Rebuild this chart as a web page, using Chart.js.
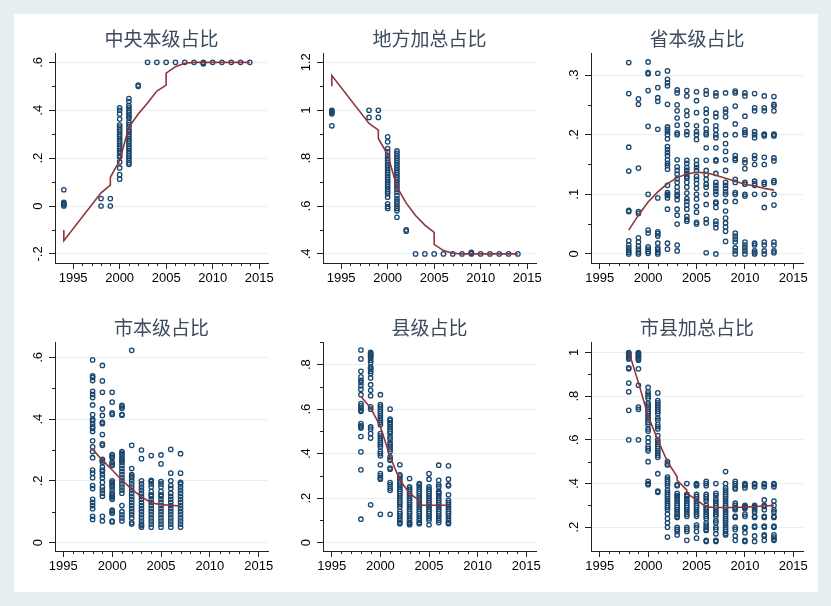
<!DOCTYPE html>
<html>
<head>
<meta charset="utf-8">
<script src="https://cdn.jsdelivr.net/npm/chart.js@4.4.1/dist/chart.umd.min.js"></script>
<style>
body { margin: 0; background: #e8eff1; }
#wrap { position: relative; width: 831px; height: 606px; overflow: hidden; }
#inner { position: absolute; left: 14px; top: 14px; width: 804px; height: 578px; background: #fff; }
canvas { position: absolute; }
</style>
</head>
<body>
<div id="wrap">
  <div id="inner"></div>
  <canvas id="c1"></canvas>
  <canvas id="c2"></canvas>
  <canvas id="c3"></canvas>
  <canvas id="c4"></canvas>
  <canvas id="c5"></canvas>
  <canvas id="c6"></canvas>
</div>
<script>
// x axis (all panels)
var xTicks = [1995, 2000, 2005, 2010, 2015];
var xMinor = [1996, 1997, 1998, 1999, 2001, 2002, 2003, 2004, 2006, 2007, 2008, 2009, 2011, 2012, 2013, 2014];

// 中央本级占比
var zyYears = [1994, 1998, 1999, 2000, 2001, 2002, 2003, 2004, 2005, 2006, 2007, 2008, 2009, 2010, 2011, 2012, 2013, 2014];
var zyVals = [
  [0.068, 0.015, 0.01, 0.005, 0.0],
  [0.031, 0.0],
  [0.031, 0.0],
  [0.112, 0.131, 0.159, 0.184, 0.205, 0.21, 0.22, 0.23, 0.24, 0.25, 0.26, 0.27, 0.28, 0.29, 0.3, 0.31, 0.32, 0.33, 0.338, 0.363, 0.384, 0.4, 0.41],
  [0.174, 0.18, 0.19, 0.2, 0.21, 0.22, 0.23, 0.24, 0.25, 0.26, 0.27, 0.28, 0.29, 0.3, 0.31, 0.317, 0.33, 0.34, 0.35, 0.366, 0.373, 0.38, 0.39, 0.4, 0.41, 0.42, 0.436, 0.449],
  [0.5, 0.505],
  [0.6], [0.6], [0.6], [0.6], [0.6], [0.6], [0.6, 0.597, 0.594], [0.6], [0.6], [0.6], [0.6], [0.6]
];
var zyFitX = [1994, 1994, 1998, 1999, 1999, 2000, 2001, 2002, 2003, 2004, 2005, 2005, 2006, 2007, 2008, 2009, 2010, 2011, 2012, 2013, 2014];
var zyFitY = [-0.1, -0.145, 0.055, 0.087, 0.12, 0.19, 0.33, 0.384, 0.43, 0.48, 0.505, 0.555, 0.582, 0.596, 0.6, 0.6, 0.6, 0.6, 0.6, 0.6, 0.6];
var zyYTicks = [-0.2, 0, 0.2, 0.4, 0.6];
var zyYLabels = ['-.2', '0', '.2', '.4', '.6'];
var zyYMinor = [-0.1, 0.1, 0.3, 0.5];

// 地方加总占比
var dfYears = [1994, 1998, 1999, 2000, 2001, 2002, 2003, 2004, 2005, 2006, 2007, 2008, 2009, 2010, 2011, 2012, 2013, 2014];
var dfVals = [
  [1.0, 0.995, 0.99, 0.985, 0.935],
  [1.0, 0.97],
  [1.0, 0.97],
  [0.59, 0.598, 0.609, 0.637, 0.651, 0.66, 0.67, 0.68, 0.69, 0.7, 0.71, 0.72, 0.73, 0.74, 0.75, 0.76, 0.77, 0.78, 0.79, 0.8, 0.812, 0.826, 0.84, 0.868, 0.889],
  [0.553, 0.58, 0.59, 0.6, 0.61, 0.62, 0.63, 0.644, 0.658, 0.67, 0.68, 0.69, 0.7, 0.71, 0.72, 0.73, 0.74, 0.75, 0.76, 0.77, 0.78, 0.79, 0.8, 0.81, 0.82, 0.83],
  [0.5, 0.495],
  [0.4], [0.4], [0.4], [0.4], [0.4], [0.4], [0.4, 0.403, 0.406], [0.4], [0.4], [0.4], [0.4], [0.4]
];
var dfFitX = [1994, 1994, 1998, 1999, 1999, 2000, 2001, 2002, 2003, 2004, 2005, 2005, 2006, 2007, 2008, 2009, 2010, 2011, 2012, 2013, 2014];
var dfFitY = [1.1, 1.145, 0.945, 0.917, 0.882, 0.815, 0.68, 0.612, 0.56, 0.52, 0.49, 0.44, 0.414, 0.403, 0.4, 0.4, 0.4, 0.4, 0.4, 0.4, 0.4];
var dfYTicks = [0.4, 0.6, 0.8, 1, 1.2];
var dfYLabels = ['.4', '.6', '.8', '1', '1.2'];
var dfYMinor = [0.5, 0.7, 0.9, 1.1];

// 省本级占比
var sbYears = [1998, 1999, 2000, 2001, 2002, 2003, 2004, 2005, 2006, 2007, 2008, 2009, 2010, 2011, 2012, 2013];
var sbVals = [
  [0.321, 0.269, 0.179, 0.139, 0.073, 0.071, 0.022, 0.015, 0.01, 0.006, 0.003, 0.0],
  [0.26, 0.251, 0.144, 0.071, 0.068, 0.027, 0.02, 0.013, 0.008, 0.003, 0.0],
  [0.322, 0.304, 0.302, 0.274, 0.214, 0.1, 0.04, 0.035, 0.012, 0.008, 0.004, 0.001],
  [0.303, 0.279, 0.262, 0.256, 0.209, 0.094, 0.037, 0.034, 0.03, 0.018, 0.01, 0.007, 0.003, 0.0],
  [0.307, 0.293, 0.287, 0.282, 0.251, 0.213, 0.209, 0.205, 0.2, 0.193, 0.18, 0.175, 0.17, 0.165, 0.158, 0.152, 0.148, 0.142, 0.115, 0.103, 0.1, 0.098, 0.094, 0.075, 0.018, 0.008],
  [0.275, 0.27, 0.25, 0.24, 0.228, 0.216, 0.203, 0.2, 0.158, 0.146, 0.14, 0.134, 0.126, 0.12, 0.112, 0.105, 0.1, 0.097, 0.091, 0.075, 0.065, 0.05, 0.015, 0.005],
  [0.274, 0.265, 0.24, 0.232, 0.217, 0.205, 0.2, 0.157, 0.152, 0.145, 0.14, 0.135, 0.13, 0.127, 0.12, 0.112, 0.102, 0.093, 0.088, 0.082, 0.075, 0.063, 0.058, 0.055],
  [0.272, 0.257, 0.237, 0.215, 0.205, 0.2, 0.192, 0.157, 0.15, 0.145, 0.14, 0.13, 0.125, 0.118, 0.11, 0.1, 0.092, 0.08, 0.07, 0.053, 0.05],
  [0.274, 0.268, 0.243, 0.236, 0.223, 0.21, 0.203, 0.2, 0.178, 0.157, 0.14, 0.133, 0.125, 0.117, 0.112, 0.1, 0.083, 0.058, 0.052, 0.002],
  [0.27, 0.265, 0.236, 0.23, 0.215, 0.208, 0.2, 0.195, 0.178, 0.158, 0.156, 0.135, 0.12, 0.115, 0.11, 0.105, 0.1, 0.087, 0.085, 0.078, 0.055, 0.05, 0.044, 0.0],
  [0.27, 0.243, 0.238, 0.23, 0.2, 0.185, 0.172, 0.158, 0.14, 0.12, 0.115, 0.11, 0.104, 0.1, 0.088, 0.072, 0.06, 0.052, 0.045, 0.038, 0.021],
  [0.273, 0.27, 0.248, 0.218, 0.2, 0.165, 0.16, 0.157, 0.125, 0.12, 0.103, 0.1, 0.088, 0.035, 0.03, 0.025, 0.02, 0.01, 0.005, 0.0],
  [0.27, 0.265, 0.231, 0.208, 0.204, 0.2, 0.158, 0.153, 0.143, 0.12, 0.117, 0.1, 0.097, 0.02, 0.015, 0.01, 0.005, 0.0],
  [0.269, 0.245, 0.24, 0.205, 0.2, 0.195, 0.165, 0.16, 0.15, 0.122, 0.118, 0.115, 0.1, 0.018, 0.015, 0.005, 0.002, 0.0],
  [0.265, 0.245, 0.24, 0.201, 0.2, 0.198, 0.162, 0.15, 0.12, 0.117, 0.1, 0.078, 0.02, 0.015, 0.005, 0.0],
  [0.264, 0.251, 0.248, 0.24, 0.201, 0.2, 0.198, 0.161, 0.156, 0.123, 0.12, 0.1, 0.082, 0.02, 0.015, 0.005, 0.002]
];
var sbFitX = [1998, 1999, 2000, 2001, 2002, 2003, 2004, 2005, 2006, 2007, 2008, 2009, 2010, 2011, 2012, 2013];
var sbFitY = [0.04, 0.065, 0.087, 0.104, 0.118, 0.128, 0.134, 0.137, 0.136, 0.132, 0.127, 0.122, 0.117, 0.114, 0.11, 0.107];
var sbYTicks = [0, 0.1, 0.2, 0.3];
var sbYLabels = ['0', '.1', '.2', '.3'];
var sbYMinor = [0.05, 0.15, 0.25];

// 市本级占比
var shiYears = [1998, 1999, 2000, 2001, 2002, 2003, 2004, 2005, 2006, 2007];
var shiVals = [
  [0.592, 0.54, 0.535, 0.525, 0.49, 0.48, 0.47, 0.446, 0.415, 0.4, 0.395, 0.385, 0.375, 0.37, 0.36, 0.33, 0.31, 0.295, 0.275, 0.235, 0.225, 0.21, 0.185, 0.175, 0.14, 0.13, 0.12, 0.11, 0.085, 0.075],
  [0.574, 0.524, 0.487, 0.433, 0.412, 0.39, 0.385, 0.35, 0.32, 0.315, 0.27, 0.265, 0.26, 0.245, 0.235, 0.23, 0.22, 0.21, 0.195, 0.18, 0.17, 0.16, 0.15, 0.085, 0.07],
  [0.487, 0.455, 0.42, 0.415, 0.285, 0.28, 0.275, 0.26, 0.255, 0.25, 0.2, 0.195, 0.19, 0.185, 0.18, 0.17, 0.16, 0.155, 0.15, 0.145, 0.14, 0.105, 0.1, 0.095, 0.07, 0.067],
  [0.445, 0.44, 0.435, 0.415, 0.413, 0.295, 0.29, 0.285, 0.275, 0.27, 0.265, 0.26, 0.25, 0.24, 0.23, 0.22, 0.21, 0.2, 0.19, 0.18, 0.17, 0.16, 0.12, 0.1, 0.09, 0.08, 0.07],
  [0.623, 0.315, 0.24, 0.22, 0.215, 0.21, 0.2, 0.19, 0.18, 0.17, 0.16, 0.15, 0.14, 0.13, 0.12, 0.11, 0.1, 0.09, 0.08, 0.065, 0.06],
  [0.3, 0.272, 0.2, 0.19, 0.18, 0.17, 0.16, 0.15, 0.14, 0.13, 0.12, 0.11, 0.1, 0.09, 0.08, 0.07, 0.06, 0.055, 0.05],
  [0.282, 0.202, 0.198, 0.19, 0.18, 0.165, 0.155, 0.15, 0.14, 0.13, 0.12, 0.11, 0.1, 0.09, 0.08, 0.07, 0.06, 0.05],
  [0.284, 0.255, 0.198, 0.19, 0.18, 0.165, 0.155, 0.15, 0.14, 0.13, 0.12, 0.11, 0.1, 0.09, 0.08, 0.07, 0.06, 0.05],
  [0.302, 0.225, 0.2, 0.185, 0.175, 0.16, 0.15, 0.14, 0.13, 0.12, 0.11, 0.1, 0.09, 0.08, 0.07, 0.06, 0.05],
  [0.288, 0.225, 0.195, 0.19, 0.18, 0.17, 0.16, 0.15, 0.14, 0.13, 0.12, 0.11, 0.1, 0.09, 0.08, 0.07, 0.06, 0.05]
];
var shiFitX = [1998, 1999, 2000, 2001, 2002, 2003, 2004, 2005, 2006, 2007];
var shiFitY = [0.302, 0.267, 0.235, 0.202, 0.173, 0.148, 0.129, 0.123, 0.121, 0.118];
var shiYTicks = [0, 0.2, 0.4, 0.6];
var shiYLabels = ['0', '.2', '.4', '.6'];
var shiYMinor = [0.1, 0.3, 0.5];

// 县级占比
var xianYears = [1998, 1999, 2000, 2001, 2002, 2003, 2004, 2005, 2006, 2007];
var xianVals = [
  [0.866, 0.826, 0.77, 0.745, 0.73, 0.72, 0.705, 0.69, 0.665, 0.625, 0.615, 0.605, 0.595, 0.59, 0.535, 0.525, 0.52, 0.515, 0.477, 0.408, 0.327, 0.105],
  [0.855, 0.85, 0.845, 0.84, 0.835, 0.83, 0.82, 0.81, 0.79, 0.785, 0.78, 0.77, 0.76, 0.74, 0.71, 0.685, 0.66, 0.61, 0.6, 0.52, 0.51, 0.49, 0.47, 0.17],
  [0.665, 0.62, 0.61, 0.6, 0.59, 0.58, 0.57, 0.56, 0.55, 0.54, 0.53, 0.49, 0.48, 0.47, 0.46, 0.45, 0.44, 0.43, 0.41, 0.4, 0.39, 0.35, 0.31, 0.3, 0.29, 0.285, 0.127],
  [0.6, 0.555, 0.55, 0.54, 0.53, 0.52, 0.51, 0.5, 0.49, 0.475, 0.465, 0.45, 0.44, 0.43, 0.42, 0.41, 0.385, 0.375, 0.37, 0.335, 0.33, 0.27, 0.26, 0.245, 0.235, 0.127],
  [0.35, 0.305, 0.3, 0.29, 0.28, 0.27, 0.26, 0.25, 0.24, 0.23, 0.22, 0.21, 0.2, 0.19, 0.18, 0.17, 0.16, 0.14, 0.13, 0.12, 0.11, 0.1, 0.09, 0.085],
  [0.288, 0.25, 0.24, 0.23, 0.22, 0.21, 0.2, 0.19, 0.18, 0.17, 0.16, 0.15, 0.14, 0.13, 0.12, 0.11, 0.1, 0.09, 0.085, 0.08],
  [0.265, 0.26, 0.25, 0.24, 0.23, 0.22, 0.21, 0.2, 0.19, 0.18, 0.17, 0.16, 0.15, 0.14, 0.13, 0.12, 0.11, 0.1, 0.09, 0.085],
  [0.31, 0.285, 0.25, 0.24, 0.23, 0.22, 0.21, 0.2, 0.19, 0.18, 0.17, 0.16, 0.15, 0.14, 0.13, 0.12, 0.11, 0.1, 0.08],
  [0.348, 0.28, 0.26, 0.25, 0.23, 0.225, 0.22, 0.21, 0.2, 0.19, 0.18, 0.17, 0.16, 0.15, 0.14, 0.13, 0.12, 0.11, 0.1, 0.09],
  [0.345, 0.285, 0.26, 0.255, 0.215, 0.19, 0.18, 0.17, 0.16, 0.15, 0.14, 0.13, 0.12, 0.11, 0.1, 0.09, 0.085]
];
var xianFitX = [1998, 1999, 2000, 2001, 2002, 2003, 2004, 2004, 2005, 2006, 2007];
var xianFitY = [0.657, 0.605, 0.522, 0.386, 0.281, 0.221, 0.19, 0.168, 0.168, 0.168, 0.168];
var xianYTicks = [0, 0.2, 0.4, 0.6, 0.8];
var xianYLabels = ['0', '.2', '.4', '.6', '.8'];
var xianYMinor = [0.1, 0.3, 0.5, 0.7, 0.9];

// 市县加总占比
var sxYears = [1998, 1999, 2000, 2001, 2002, 2003, 2004, 2005, 2006, 2007, 2008, 2009, 2010, 2011, 2012, 2013];
var sxVals = [
  [1.0, 0.995, 0.99, 0.985, 0.98, 0.975, 0.97, 0.93, 0.925, 0.86, 0.82, 0.735, 0.6],
  [1.0, 0.995, 0.99, 0.985, 0.98, 0.975, 0.97, 0.965, 0.925, 0.85, 0.75, 0.74, 0.6],
  [0.84, 0.82, 0.81, 0.8, 0.79, 0.77, 0.76, 0.75, 0.74, 0.73, 0.72, 0.71, 0.7, 0.69, 0.68, 0.67, 0.65, 0.64, 0.61, 0.59, 0.57, 0.56, 0.55, 0.5, 0.41, 0.4, 0.395],
  [0.815, 0.78, 0.77, 0.76, 0.75, 0.74, 0.73, 0.72, 0.7, 0.69, 0.67, 0.66, 0.65, 0.62, 0.6, 0.59, 0.58, 0.57, 0.56, 0.55, 0.54, 0.53, 0.52, 0.445, 0.365, 0.36],
  [0.5, 0.49, 0.485, 0.43, 0.42, 0.41, 0.4, 0.39, 0.37, 0.36, 0.35, 0.34, 0.33, 0.32, 0.31, 0.3, 0.29, 0.28, 0.26, 0.24, 0.22, 0.2, 0.155],
  [0.395, 0.39, 0.355, 0.345, 0.34, 0.33, 0.32, 0.31, 0.3, 0.29, 0.28, 0.27, 0.26, 0.25, 0.245, 0.2, 0.19, 0.18, 0.165],
  [0.4, 0.35, 0.345, 0.34, 0.33, 0.32, 0.31, 0.3, 0.29, 0.28, 0.27, 0.26, 0.25, 0.2, 0.19, 0.18, 0.14],
  [0.4, 0.395, 0.39, 0.35, 0.34, 0.33, 0.32, 0.31, 0.3, 0.29, 0.28, 0.27, 0.26, 0.25, 0.21, 0.2, 0.18, 0.15],
  [0.41, 0.4, 0.39, 0.35, 0.34, 0.33, 0.32, 0.3, 0.29, 0.28, 0.27, 0.26, 0.25, 0.24, 0.22, 0.21, 0.2, 0.19, 0.185, 0.14, 0.135],
  [0.4, 0.355, 0.345, 0.33, 0.32, 0.31, 0.3, 0.29, 0.28, 0.27, 0.26, 0.25, 0.23, 0.22, 0.2, 0.19, 0.17, 0.14, 0.135],
  [0.455, 0.4, 0.38, 0.37, 0.36, 0.35, 0.34, 0.33, 0.32, 0.31, 0.3, 0.29, 0.28, 0.27, 0.26, 0.25, 0.24, 0.23, 0.22, 0.21, 0.2, 0.19, 0.18, 0.17, 0.165],
  [0.41, 0.4, 0.39, 0.38, 0.375, 0.31, 0.3, 0.29, 0.285, 0.28, 0.25, 0.245, 0.2, 0.19, 0.16, 0.14],
  [0.4, 0.395, 0.39, 0.38, 0.3, 0.295, 0.29, 0.285, 0.26, 0.25, 0.2, 0.195, 0.175, 0.14, 0.135],
  [0.4, 0.395, 0.385, 0.3, 0.295, 0.29, 0.28, 0.27, 0.25, 0.245, 0.205, 0.2, 0.16, 0.135],
  [0.4, 0.395, 0.385, 0.325, 0.3, 0.295, 0.28, 0.25, 0.245, 0.205, 0.2, 0.165, 0.16, 0.14],
  [0.4, 0.395, 0.385, 0.32, 0.3, 0.28, 0.27, 0.25, 0.245, 0.205, 0.2, 0.165, 0.155, 0.145, 0.14]
];
var sxFitX = [1998, 1999, 2000, 2001, 2002, 2003, 2003, 2004, 2004, 2005, 2006, 2007, 2008, 2009, 2010, 2011, 2012, 2013];
var sxFitY = [1.005, 0.862, 0.709, 0.6, 0.5, 0.431, 0.415, 0.37, 0.355, 0.325, 0.293, 0.29, 0.29, 0.29, 0.292, 0.295, 0.297, 0.3];
var sxYTicks = [0.2, 0.4, 0.6, 0.8, 1];
var sxYLabels = ['.2', '.4', '.6', '.8', '1'];
var sxYMinor = [0.3, 0.5, 0.7, 0.9];

var navy = '#1a476f';
var maroon = '#90353b';
var axisColor = '#222';

// minor ticks and vertical y labels, placed with the chart's own scales
var stataAxes = {
  id: 'stataAxes',
  afterDraw: function(chart, args, opts) {
    var ctx = chart.ctx, xs = chart.scales.x, ys = chart.scales.y, a = chart.chartArea;
    ctx.save();
    ctx.strokeStyle = axisColor;
    ctx.lineWidth = 1;
    ctx.beginPath();
    opts.xMinor.forEach(function(v) {
      var px = Math.round(xs.getPixelForValue(v)) + 0.5;
      ctx.moveTo(px, a.bottom);
      ctx.lineTo(px, a.bottom + 3);
    });
    opts.yMinor.forEach(function(v) {
      var py = Math.round(ys.getPixelForValue(v)) + 0.5;
      ctx.moveTo(a.left, py);
      ctx.lineTo(a.left - 3, py);
    });
    ctx.stroke();
    ctx.fillStyle = '#000';
    ctx.font = '13px "Liberation Sans", Arial, sans-serif';
    ctx.textAlign = 'center';
    ctx.textBaseline = 'middle';
    opts.yTicks.forEach(function(v, i) {
      ctx.save();
      ctx.translate(a.left - 16.5, ys.getPixelForValue(v));
      ctx.rotate(-Math.PI / 2);
      ctx.fillText(opts.yLabels[i], 0, 0);
      ctx.restore();
    });
    ctx.restore();
  }
};

function points(years, vals) {
  var out = [];
  years.forEach(function(yr, i) {
    vals[i].forEach(function(v) { out.push({x: yr, y: v}); });
  });
  return out;
}
function line(xs, ys) {
  return xs.map(function(x, i) { return {x: x, y: ys[i]}; });
}

var panels = [
  {id: 'c1', title: '中央本级占比', left: 55, right: 268, top: 53, bottom: 263, canvasTop: 14, titleY: 39,
   xMin: 1993.05, xMax: 2015.95, yMin: -0.238, yMax: 0.639,
   years: zyYears, vals: zyVals, fitX: zyFitX, fitY: zyFitY, yTicks: zyYTicks, yLabels: zyYLabels, yMinor: zyYMinor},
  {id: 'c2', title: '地方加总占比', left: 323, right: 536, top: 53, bottom: 263, canvasTop: 14, titleY: 39,
   xMin: 1993.05, xMax: 2015.95, yMin: 0.362, yMax: 1.239,
   years: dfYears, vals: dfVals, fitX: dfFitX, fitY: dfFitY, yTicks: dfYTicks, yLabels: dfYLabels, yMinor: dfYMinor},
  {id: 'c3', title: '省本级占比', left: 591, right: 803, top: 53, bottom: 263, canvasTop: 14, titleY: 39,
   xMin: 1994.1, xMax: 2016.0, yMin: -0.0152, yMax: 0.337,
   years: sbYears, vals: sbVals, fitX: sbFitX, fitY: sbFitY, yTicks: sbYTicks, yLabels: sbYLabels, yMinor: sbYMinor},
  {id: 'c4', title: '市本级占比', left: 55, right: 268, top: 342, bottom: 551, canvasTop: 300, titleY: 327.5,
   xMin: 1994.15, xMax: 2015.95, yMin: -0.0273, yMax: 0.65,
   years: shiYears, vals: shiVals, fitX: shiFitX, fitY: shiFitY, yTicks: shiYTicks, yLabels: shiYLabels, yMinor: shiYMinor},
  {id: 'c5', title: '县级占比', left: 323, right: 536, top: 342, bottom: 551, canvasTop: 300, titleY: 327.5,
   xMin: 1994.1, xMax: 2016.0, yMin: -0.038, yMax: 0.902,
   years: xianYears, vals: xianVals, fitX: xianFitX, fitY: xianFitY, yTicks: xianYTicks, yLabels: xianYLabels, yMinor: xianYMinor},
  {id: 'c6', title: '市县加总占比', left: 591, right: 803, top: 342, bottom: 551, canvasTop: 300, titleY: 327.5,
   xMin: 1994.1, xMax: 2016.0, yMin: 0.0912, yMax: 1.048,
   years: sxYears, vals: sxVals, fitX: sxFitX, fitY: sxFitY, yTicks: sxYTicks, yLabels: sxYLabels, yMinor: sxYMinor}
];

panels.forEach(function(p) {
  var canvas = document.getElementById(p.id);
  var cLeft = p.left - 45;
  var w = p.right + 12 - cLeft;
  var h = p.bottom + 30 - p.canvasTop;
  canvas.width = w;
  canvas.height = h;
  canvas.style.left = cLeft + 'px';
  canvas.style.top = p.canvasTop + 'px';
  canvas.style.width = w + 'px';
  canvas.style.height = h + 'px';
  var lh = 19 * 1.2;
  var padTop = p.titleY - p.canvasTop - lh / 2;
  var padBottom = p.top - p.canvasTop - padTop - lh;

  new Chart(canvas, {
    type: 'scatter',
    data: {
      datasets: [
        {
          data: line(p.fitX, p.fitY),
          showLine: true,
          borderColor: maroon,
          borderWidth: 1.6,
          pointRadius: 0,
          tension: 0
        },
        {
          data: points(p.years, p.vals),
          pointRadius: 2.2,
          pointBorderWidth: 1.3,
          borderColor: navy,
          backgroundColor: 'rgba(255,255,255,0)'
        }
      ]
    },
    options: {
      responsive: false,
      animation: false,
      devicePixelRatio: 1,
      layout: { padding: { left: 4, right: 12, top: 0, bottom: 0 } },
      plugins: {
        legend: { display: false },
        tooltip: { enabled: false },
        title: {
          display: true,
          text: p.title,
          fullSize: false,
          color: '#3c4b5c',
          font: { family: '"Noto Sans CJK SC", sans-serif', size: 19, weight: 'normal', lineHeight: 1.2 },
          padding: { top: padTop, bottom: padBottom }
        },
        stataAxes: { xMinor: xMinor, yMinor: p.yMinor, yTicks: p.yTicks, yLabels: p.yLabels }
      },
      scales: {
        x: {
          type: 'linear',
          min: p.xMin,
          max: p.xMax,
          afterBuildTicks: function(s) { s.ticks = xTicks.map(function(v) { return {value: v}; }); },
          afterFit: function(s) { s.height = 30; },
          ticks: {
            autoSkip: false,
            maxRotation: 0,
            padding: 2,
            color: '#000',
            font: { family: '"Liberation Sans", Arial, sans-serif', size: 13 },
            callback: function(v) { return String(v); }
          },
          grid: { drawOnChartArea: false, drawTicks: true, tickLength: 6, color: axisColor },
          border: { display: true, color: axisColor, width: 1 }
        },
        y: {
          min: p.yMin,
          max: p.yMax,
          afterBuildTicks: function(s) { s.ticks = p.yTicks.map(function(v) { return {value: v}; }); },
          afterFit: function(s) { s.width = 41; },
          ticks: { display: false },
          grid: { color: '#e6eff1', tickColor: axisColor, drawTicks: true, tickLength: 6 },
          border: { display: true, color: axisColor, width: 1 }
        }
      }
    },
    plugins: [stataAxes]
  });
});
</script>
</body>
</html>
